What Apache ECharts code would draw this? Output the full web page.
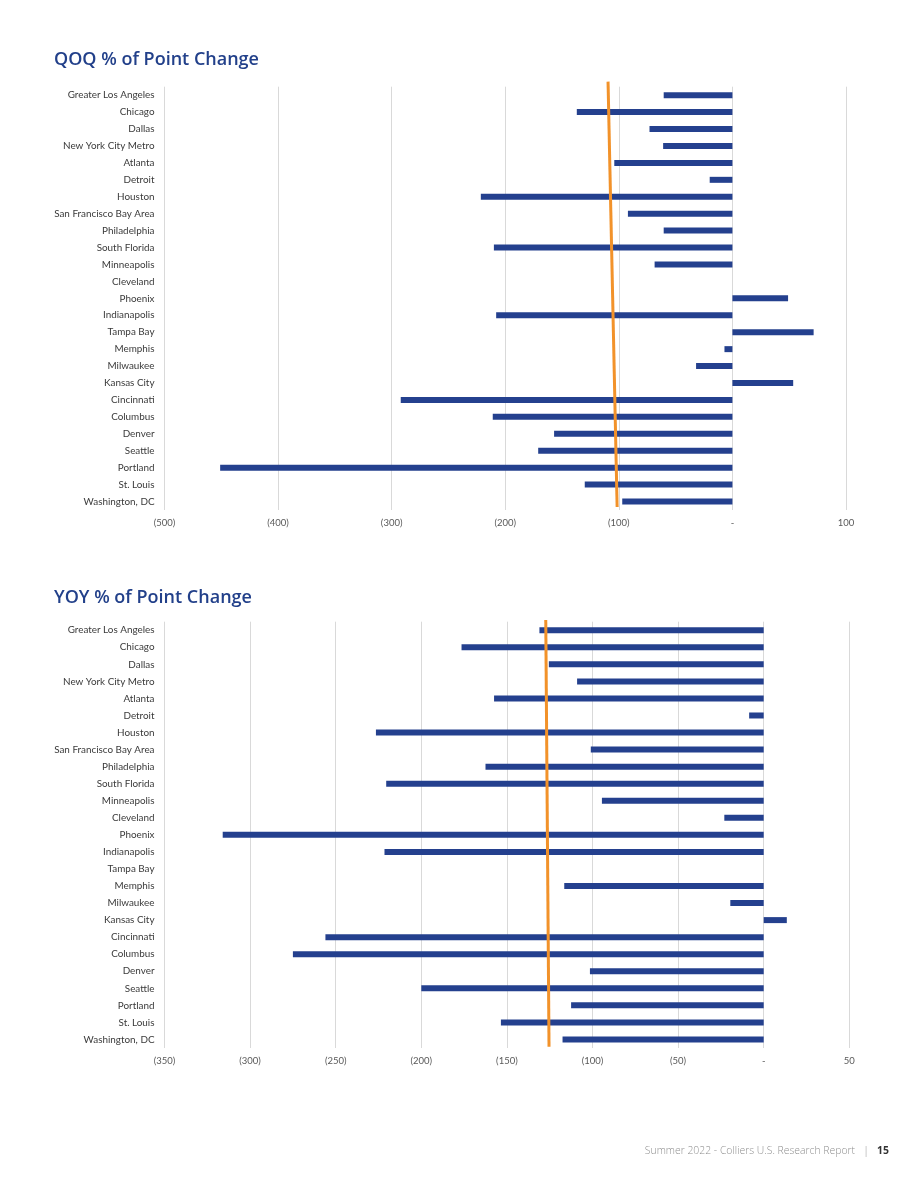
<!DOCTYPE html>
<html>
<head>
<meta charset="utf-8">
<script src="https://cdn.jsdelivr.net/npm/echarts@6/dist/echarts.min.js"></script>
<style>
html,body{margin:0;padding:0;background:#fff;}
#chart{width:920px;height:1191px;}
</style>
</head>
<body>
<div id="chart"></div>
<script>
const categories = ["Greater Los Angeles","Chicago","Dallas","New York City Metro","Atlanta","Detroit","Houston","San Francisco Bay Area","Philadelphia","South Florida","Minneapolis","Cleveland","Phoenix","Indianapolis","Tampa Bay","Memphis","Milwaukee","Kansas City","Cincinnati","Columbus","Denver","Seattle","Portland","St. Louis","Washington, DC"];
const qoqValues = [-60.5,-137,-73,-61,-104,-20,-221.5,-92,-60.5,-210,-68.5,0,49,-208,71.5,-7,-32,53.5,-292,-211,-157,-171,-451,-130,-97];
const yoyValues = [-131,-176.5,-125.5,-109,-157.5,-8.5,-226.5,-101,-162.5,-220.5,-94.5,-23,-316,-221.5,0,-116.5,-19.5,13.5,-256,-275,-101.5,-200,-112.5,-153.5,-117.5];
// orange average line: [x value, fraction of plot height]
const qoqAvgLine = [[-101.5,0.007],[-109.5,1.012]];
const yoyAvgLine = [[-125.4,0.003],[-127.3,1.004]];
const qoqAxis = {min:-500,max:100,interval:100};
const yoyAxis = {min:-350,max:50,interval:50};
const titles = ["QOQ % of Point Change","YOY % of Point Change"];
const footerText = "Summer 2022 - Colliers U.S. Research Report";
const pageNumber = "15";

const BLUE = "#24408E";
const ORANGE = "#F2922A";
const labelFont = "Lato";
const fmt = v => v === 0 ? "-" : (v < 0 ? "(" + Math.abs(v) + ")" : String(v));

const chart = echarts.init(document.getElementById('chart'));
function xAxisFor(idx, ax){
  return {gridIndex:idx,type:'value',min:ax.min,max:ax.max,interval:ax.interval,
    axisLine:{show:false},axisTick:{show:false},
    splitLine:{show:true,lineStyle:{color:'#d9d9d9',width:1}},
    axisLabel:{formatter:fmt,color:'#595959',fontFamily:labelFont,fontSize:9.5,margin:8}};
}
function catAxis(idx){
  return {gridIndex:idx,type:'category',data:categories,inverse:true,
    axisLine:{show:false},axisTick:{show:false},splitLine:{show:false},
    axisLabel:{color:'#3a3a3a',fontFamily:labelFont,fontSize:9.9,margin:10,interval:0}};
}
function valY(idx){
  return {gridIndex:idx,type:'value',min:0,max:1,show:false};
}
const option = {
  animation:false,
  backgroundColor:'#fff',
  title:[
    {text:titles[0],left:54,top:51,padding:0,textStyle:{fontFamily:'Open Sans',fontWeight:600,fontSize:18,color:'#22408A'}},
    {text:titles[1],left:54,top:589,padding:0,textStyle:{fontFamily:'Open Sans',fontWeight:600,fontSize:18,color:'#22408A'}}
  ],
  grid:[
    {left:164.5,right:74,top:86.7,height:423.3},
    {left:164.5,right:70.7,top:621.7,height:426.3}
  ],
  xAxis:[xAxisFor(0,qoqAxis),xAxisFor(1,yoyAxis)],
  yAxis:[catAxis(0),catAxis(1),valY(0),valY(1)],
  series:[
    {type:'bar',xAxisIndex:0,yAxisIndex:0,data:qoqValues,barWidth:6,itemStyle:{color:BLUE}},
    {type:'bar',xAxisIndex:1,yAxisIndex:1,data:yoyValues,barWidth:6,itemStyle:{color:BLUE}},
    {type:'line',xAxisIndex:0,yAxisIndex:2,data:qoqAvgLine,symbol:'none',clip:false,lineStyle:{color:ORANGE,width:3}},
    {type:'line',xAxisIndex:1,yAxisIndex:3,data:yoyAvgLine,symbol:'none',clip:false,lineStyle:{color:ORANGE,width:3}}
  ],
  graphic:[
    {type:'text',x:855,y:1151,style:{text:footerText,align:'right',verticalAlign:'middle',font:'300 10.4px "Open Sans"',fill:'#8f8f8f'}},
    {type:'text',x:866,y:1151,style:{text:'|',align:'center',verticalAlign:'middle',font:'300 10.4px "Open Sans"',fill:'#8f8f8f'}},
    {type:'text',x:877,y:1151,style:{text:pageNumber,align:'left',verticalAlign:'middle',font:'700 10.4px "Open Sans"',fill:'#333'}}
  ]
};
chart.setOption(option);
</script>
</body>
</html>
